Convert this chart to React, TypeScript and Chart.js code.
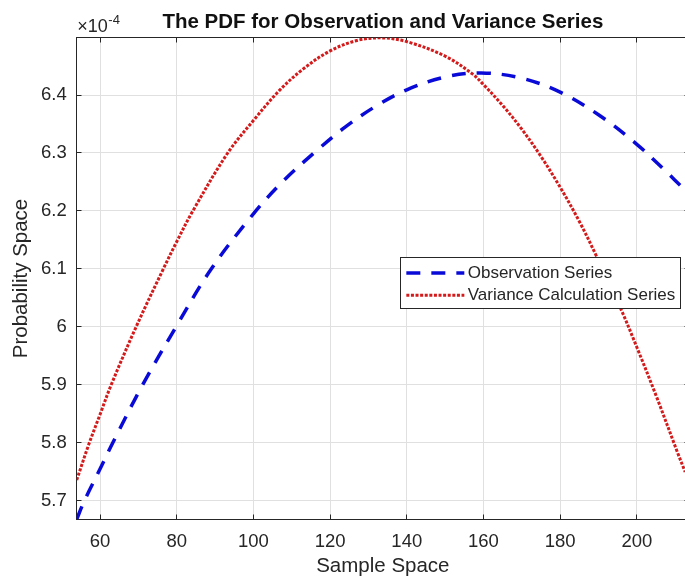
import { useEffect, useRef } from "react";
import { Chart, registerables } from "chart.js";

Chart.register(...registerables);

// ---- text ----
const TITLE = "The PDF for Observation and Variance Series";
const X_LABEL = "Sample Space";
const Y_LABEL = "Probability Space";
const Y_EXP_BASE = "\u00d710";
const Y_EXP_POWER = "-4";

// ---- axes ----
const X_TICKS = [60, 80, 100, 120, 140, 160, 180, 200];
const Y_TICKS = [5.7e-4, 5.8e-4, 5.9e-4, 6.0e-4, 6.1e-4, 6.2e-4, 6.3e-4, 6.4e-4];
const X_MIN = 53.92;
const X_MAX = 213.6;
const Y_MIN = 5.6684e-4;
const Y_MAX = 6.4988e-4;

// ---- series ----
const OBS_LABEL = "Observation Series";
const OBS_X = [53.92, 55.9, 60, 63.3, 71.1, 79.8, 89, 100, 108, 116.3, 124, 132, 140, 150, 159.5, 170, 180, 190, 200, 207, 212.6];
const OBS_Y = [5.6684e-4, 5.70e-4, 5.755e-4, 5.80e-4, 5.90e-4, 6.00e-4, 6.10e-4, 6.195e-4, 6.253e-4, 6.303e-4, 6.345e-4, 6.381e-4, 6.409e-4, 6.431e-4, 6.438e-4, 6.429e-4, 6.405e-4, 6.366e-4, 6.315e-4, 6.272e-4, 6.236e-4];

const VAR_LABEL = "Variance Calculation Series";
const VAR_X = [53.92, 57.2, 60, 62.9, 69.4, 76.5, 80, 84.2, 93.3, 100, 106.8, 113, 120, 127, 133.5, 140, 150, 157.2, 160, 165, 170, 175, 180, 185, 189.4, 195.9, 200, 205, 210.7, 212.6];
const VAR_Y = [5.736e-4, 5.80e-4, 5.849e-4, 5.90e-4, 6.00e-4, 6.10e-4, 6.147e-4, 6.20e-4, 6.30e-4, 6.356e-4, 6.408e-4, 6.445e-4, 6.476e-4, 6.494e-4, 6.4985e-4, 6.492e-4, 6.467e-4, 6.436e-4, 6.418e-4, 6.382e-4, 6.341e-4, 6.294e-4, 6.241e-4, 6.182e-4, 6.123e-4, 6.03e-4, 5.965e-4, 5.882e-4, 5.782e-4, 5.75e-4];

// ---- style ----
const FONT = "'Liberation Sans', Arial, Helvetica, sans-serif";
const INK = "#262626";
const GRID = "#e0e0e0";
const BLUE = "#0a0ad8";
const RED = "#d41a1a";
const OBS_DASH = [14, 11];
const VAR_DASH = [3, 1.6];

const px = (v: number) => Math.floor(v) + 0.5;

const matlabAxes = {
  id: "matlabAxes",
  beforeDatasetsDraw(chart: any) {
    const { ctx, chartArea: a, scales } = chart;
    ctx.save();
    ctx.strokeStyle = INK;
    ctx.lineWidth = 1;
    ctx.setLineDash([]);
    const L = px(a.left), R = px(a.right), T = px(a.top), B = px(a.bottom);
    ctx.strokeRect(L, T, R - L, B - T);
    ctx.beginPath();
    for (const v of X_TICKS) {
      const x = px(scales.x.getPixelForValue(v));
      ctx.moveTo(x, B); ctx.lineTo(x, B - 5);
      ctx.moveTo(x, T); ctx.lineTo(x, T + 5);
    }
    for (const v of Y_TICKS) {
      const y = px(scales.y.getPixelForValue(v));
      ctx.moveTo(L, y); ctx.lineTo(L + 5, y);
      ctx.moveTo(R, y); ctx.lineTo(R - 5, y);
    }
    ctx.stroke();
    ctx.restore();
  },
};

const titleAndExponent = {
  id: "titleAndExponent",
  afterDraw(chart: any) {
    const { ctx, chartArea: a } = chart;
    ctx.save();
    ctx.fillStyle = "#111";
    ctx.textBaseline = "alphabetic";
    ctx.textAlign = "center";
    ctx.font = `bold 20.5px ${FONT}`;
    ctx.fillText(TITLE, (a.left + a.right) / 2, a.top - 9.4);
    ctx.fillStyle = INK;
    ctx.textAlign = "left";
    ctx.font = `18px ${FONT}`;
    const bx = a.left + 0.6;
    ctx.fillText(Y_EXP_BASE, bx, a.top - 5.4);
    const w = ctx.measureText(Y_EXP_BASE).width;
    ctx.font = `13px ${FONT}`;
    ctx.fillText(Y_EXP_POWER, bx + w + 0.5, a.top - 13.7);
    ctx.restore();
  },
};

const boxedLegend = {
  id: "boxedLegend",
  afterDatasetsDraw(chart: any) {
    const { ctx, chartArea: a } = chart;
    const ds = chart.data.datasets;
    const boxRight = a.right - 8.7;
    const boxTop = a.top + 220;
    const rowH = 22.3;
    const sampleLen = 58;
    ctx.save();
    ctx.font = `17px ${FONT}`;
    const textW = Math.max(...ds.map((d: any) => ctx.measureText(d.label).width));
    const boxW = 6 + sampleLen + 3.4 + textW + 5;
    const boxH = 51;
    const boxLeft = boxRight - boxW;
    ctx.fillStyle = "#ffffff";
    ctx.fillRect(boxLeft, boxTop, boxW, boxH);
    ctx.strokeStyle = INK;
    ctx.lineWidth = 1;
    ctx.setLineDash([]);
    ctx.strokeRect(px(boxLeft), px(boxTop), Math.round(boxW), Math.round(boxH));
    ds.forEach((d: any, i: number) => {
      const cy = boxTop + 15.3 + i * rowH;
      const sx = boxLeft + 6;
      ctx.beginPath();
      ctx.strokeStyle = d.borderColor;
      ctx.lineWidth = d.borderWidth;
      ctx.lineCap = "butt";
      ctx.setLineDash(d.borderDash || []);
      ctx.moveTo(sx, cy);
      ctx.lineTo(sx + sampleLen, cy);
      ctx.stroke();
      ctx.setLineDash([]);
      ctx.fillStyle = INK;
      ctx.textAlign = "left";
      ctx.textBaseline = "middle";
      ctx.fillText(d.label, sx + sampleLen + 3.4, cy);
    });
    ctx.restore();
  },
};

function fmtY(v: number) {
  const s = (v * 1e4).toFixed(1);
  return s.endsWith(".0") ? s.slice(0, -2) : s;
}

export default function App() {
  const ref = useRef<HTMLCanvasElement>(null);
  useEffect(() => {
    if (!ref.current) return;
    const chart = new Chart(ref.current, {
      type: "line",
      data: {
        datasets: [
          {
            label: OBS_LABEL,
            data: OBS_X.map((x, i) => ({ x, y: OBS_Y[i] })),
            borderColor: BLUE,
            borderWidth: 3.5,
            borderDash: OBS_DASH,
            borderCapStyle: "butt",
            pointRadius: 0,
            fill: false,
            tension: 0.35,
            order: 1,
          },
          {
            label: VAR_LABEL,
            data: VAR_X.map((x, i) => ({ x, y: VAR_Y[i] })),
            borderColor: RED,
            borderWidth: 3,
            borderDash: VAR_DASH,
            borderCapStyle: "butt",
            pointRadius: 0,
            fill: false,
            tension: 0.35,
            order: 0,
          },
        ],
      },
      options: {
        responsive: false,
        devicePixelRatio: 1,
        animation: false,
        layout: { padding: { top: 37.7, right: 3, bottom: 0, left: 0 } },
        plugins: {
          legend: { display: false },
          title: { display: false },
          tooltip: { enabled: false },
        },
        scales: {
          x: {
            type: "linear",
            min: X_MIN,
            max: X_MAX,
            afterBuildTicks: (s: any) => {
              s.ticks = X_TICKS.map((value) => ({ value }));
            },
            afterFit: (s: any) => {
              s.height = 58.7;
            },
            grid: { color: GRID, lineWidth: 1, drawTicks: false },
            border: { display: false },
            ticks: {
              color: INK,
              font: { family: FONT, size: 18.5 },
              padding: 11.3,
              maxRotation: 0,
              autoSkip: false,
              callback: (v: any) => String(v),
            },
            title: {
              display: true,
              text: X_LABEL,
              color: INK,
              font: { family: FONT, size: 20.5, lineHeight: 1.1 },
              padding: { top: 0, bottom: 0 },
            },
          },
          y: {
            type: "linear",
            min: Y_MIN,
            max: Y_MAX,
            afterBuildTicks: (s: any) => {
              s.ticks = Y_TICKS.map((value) => ({ value }));
            },
            afterFit: (s: any) => {
              s.width = 76.7;
            },
            grid: { color: GRID, lineWidth: 1, drawTicks: false },
            border: { display: false },
            ticks: {
              color: INK,
              font: { family: FONT, size: 18.5 },
              padding: 10,
              autoSkip: false,
              callback: (v: any) => fmtY(Number(v)),
            },
            title: {
              display: true,
              text: Y_LABEL,
              color: INK,
              font: { family: FONT, size: 20.5, lineHeight: 1.1 },
              padding: { top: 9.7, bottom: 0 },
            },
          },
        },
      },
      plugins: [matlabAxes, boxedLegend, titleAndExponent],
    } as any);
    return () => chart.destroy();
  }, []);

  return (
    <div
      style={{
        position: "fixed",
        left: 0,
        top: 0,
        width: 685,
        height: 578,
        overflow: "hidden",
        background: "#ffffff",
      }}
    >
      <canvas
        ref={ref}
        width={692}
        height={578}
        style={{ display: "block", width: 692, height: 578 }}
      />
    </div>
  );
}
